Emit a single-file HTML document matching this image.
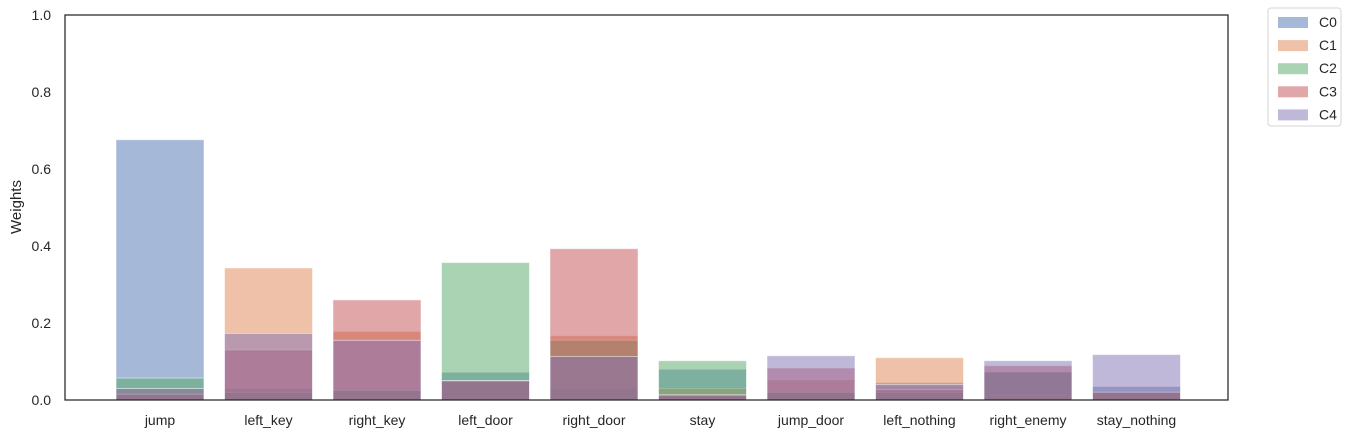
<!DOCTYPE html>
<html><head><meta charset="utf-8"><style>
body{margin:0;background:#fff;font-family:"Liberation Sans",Arial,sans-serif;}
</style></head><body>
<svg id="chart" width="1370" height="437" xmlns="http://www.w3.org/2000/svg" font-family="Liberation Sans, Arial, sans-serif"></svg>
<script>
const categories=["jump","left_key","right_key","left_door","right_door","stay","jump_door","left_nothing","right_enemy","stay_nothing"];
const seriesNames=["C0","C1","C2","C3","C4"];
const c0=[0.676,0.03,0.025,0.072,0.03,0.08,0.02,0.045,0.073,0.035];
const c1=[0.03,0.343,0.178,0.05,0.167,0.03,0.052,0.11,0.01,0.02];
const c2=[0.057,0.02,0.025,0.357,0.155,0.102,0.02,0.02,0.073,0.02];
const c3=[0.015,0.13,0.26,0.05,0.393,0.013,0.083,0.027,0.089,0.02];
const c4=[0.03,0.173,0.155,0.05,0.113,0.013,0.115,0.04,0.102,0.118];
const yTicks=[0,0.2,0.4,0.6,0.8,1.0];
const yTickLabels=["0.0","0.2","0.4","0.6","0.8","1.0"];
const seriesData=[c0,c1,c2,c3,c4];
const colors=["#4C72B0","#DD8452","#55A868","#C44E52","#8172B3"];
const NS="http://www.w3.org/2000/svg";
const svg=document.getElementById("chart");
const L=65,R=1228,T=15,B=400;
const x0=160;
function xS(i){return x0+i*108.5;}
function yS(v){return B-v*(B-T);}
const bw=88;
function mk(tag,attrs){const e=document.createElementNS(NS,tag);for(const k in attrs)e.setAttribute(k,attrs[k]);svg.appendChild(e);return e;}
seriesData.forEach((arr,s)=>{
  arr.forEach((v,i)=>{
    const r=mk("rect",{x:xS(i)-bw/2,y:yS(v),width:bw,height:yS(0)-yS(v),fill:colors[s],"fill-opacity":0.5,stroke:"#fff","stroke-opacity":0.5,"stroke-width":1});
    
    
  });
});
const frame=mk("rect",{x:L,y:T,width:R-L,height:B-T,fill:"none",stroke:"#262626","stroke-width":1.25});


yTicks.forEach((t,i)=>{
  const tx=mk("text",{x:51,y:yS(t)+5,"text-anchor":"end","font-size":14,fill:"#262626"});
  tx.textContent=yTickLabels[i];
  
  
});
categories.forEach((c,i)=>{
  const tx=mk("text",{x:xS(i),y:425,"text-anchor":"middle","font-size":14,fill:"#262626"});
  tx.textContent=c;
  
  
});
const yt=mk("text",{x:21,y:207,"text-anchor":"middle","font-size":15,fill:"#262626",transform:"rotate(-90 21 207)"});
yt.textContent="Weights";


const lg=mk("rect",{x:1268,y:8,width:73,height:118,rx:3,fill:"#fff",stroke:"#d6d6d6"});


seriesNames.forEach((n,s)=>{
  const yy=22+s*23.1;
  const p=mk("rect",{x:1278,y:yy-5,width:30,height:11,fill:colors[s],"fill-opacity":0.5});
  
  
  const tx=mk("text",{x:1319,y:yy+5,"font-size":14,fill:"#262626"});
  tx.textContent=n;
  
  
});
</script>
</body></html>
